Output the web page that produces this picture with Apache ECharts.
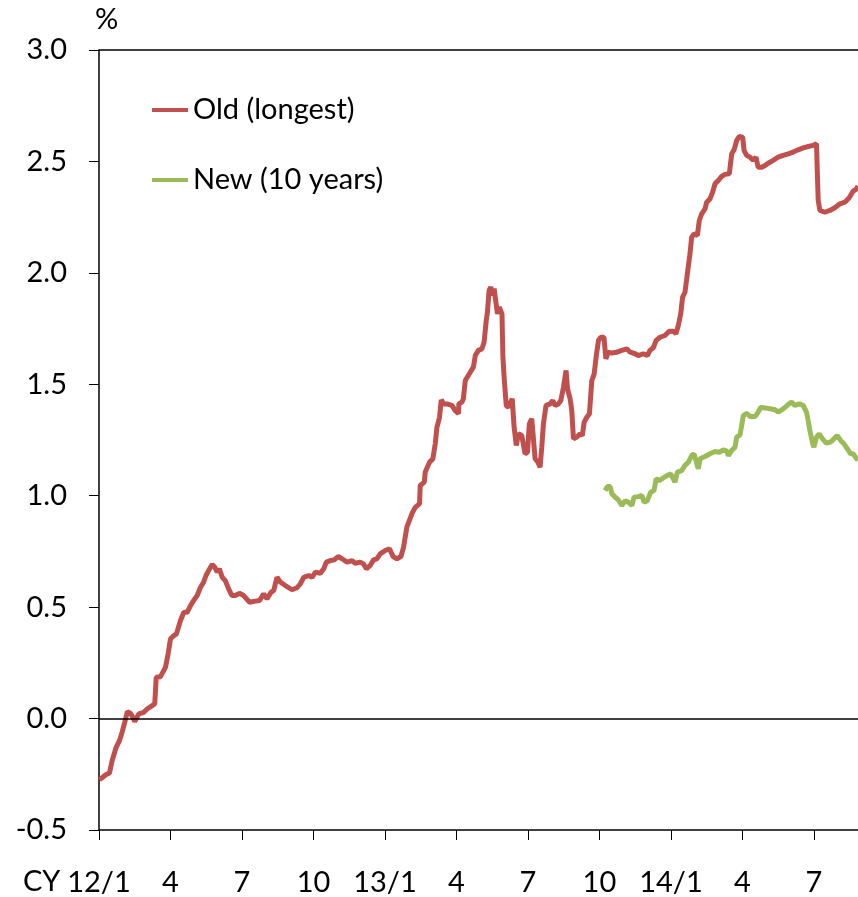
<!DOCTYPE html>
<html>
  <head>
    <meta charset="utf-8">
    <title>Old vs New</title>
    <script src="https://cdn.jsdelivr.net/npm/echarts@6/dist/echarts.min.js"></script>
    <style>
      html, body { margin: 0; padding: 0; background: #fff; }
      #main { width: 858px; height: 897px; }
    </style>
  </head>
  <body>
    <div id="main"></div>
    <script type="text/javascript">
      // x = months since CY 2012/1, y = %
      var oldMonths = [0.02,0.27,0.44,0.55,0.72,0.86,0.97,1.08,1.19,1.32,1.42,1.50,1.67,1.88,2.02,2.23,2.34,2.40,2.58,2.79,
        2.90,3.00,3.14,3.25,3.42,3.56,3.70,3.84,3.97,4.12,4.26,4.39,4.49,4.60,4.75,4.86,4.96,5.05,5.17,5.30,
        5.44,5.58,5.72,5.89,6.07,6.14,6.32,6.56,6.74,6.91,7.05,7.22,7.33,7.47,7.61,7.82,8.10,8.31,8.45,8.59,
        8.80,8.94,9.08,9.29,9.43,9.54,9.71,9.87,10.03,10.20,10.41,10.62,10.75,10.96,11.10,11.22,11.38,11.52,11.66,11.80,
        12.01,12.19,12.34,12.50,12.67,12.78,12.92,13.13,13.27,13.45,13.48,13.65,13.69,13.87,14.01,14.11,14.18,14.29,14.36,14.46,
        14.60,14.81,14.95,15.09,15.10,15.23,15.29,15.37,15.58,15.71,15.79,15.92,16.07,16.16,16.25,16.30,16.37,16.44,16.51,16.58,
        16.65,16.72,16.80,16.91,16.95,17.01,17.09,17.18,17.25,17.34,17.42,17.51,17.60,17.74,17.88,17.98,18.06,18.16,18.23,18.30,
        18.42,18.51,18.58,18.65,18.76,18.93,19.04,19.14,19.28,19.38,19.49,19.60,19.66,19.77,19.84,19.91,20.05,20.19,20.28,20.36,
        20.47,20.58,20.68,20.78,20.86,20.96,21.06,21.10,21.19,21.27,21.37,21.52,21.73,21.94,22.15,22.29,22.50,22.63,22.84,23.01,
        23.12,23.26,23.38,23.54,23.75,23.93,24.10,24.21,24.31,24.41,24.49,24.59,24.69,24.80,24.87,24.97,25.11,25.19,25.29,25.43,
        25.50,25.64,25.75,25.85,25.99,26.13,26.27,26.45,26.55,26.65,26.76,26.87,27.01,27.07,27.18,27.32,27.45,27.57,27.66,27.81,
        27.95,28.08,28.29,28.50,28.71,28.92,29.13,29.34,29.55,29.76,29.97,30.11,30.14,30.18,30.25,30.46,30.67,30.88,31.09,31.30,
        31.48,31.65,31.79,31.85];
      var oldValues = [-0.275,-0.253,-0.244,-0.189,-0.129,-0.099,-0.061,-0.017,0.031,0.024,0.006,-0.013,0.021,0.028,0.043,0.058,0.066,0.185,0.188,0.230,
        0.290,0.358,0.372,0.380,0.440,0.477,0.477,0.507,0.530,0.552,0.589,0.612,0.642,0.664,0.691,0.679,0.657,0.672,0.634,0.619,
        0.582,0.552,0.552,0.562,0.552,0.552,0.522,0.527,0.530,0.560,0.537,0.567,0.574,0.634,0.612,0.597,0.578,0.587,0.605,0.634,
        0.642,0.634,0.657,0.652,0.672,0.702,0.709,0.712,0.727,0.717,0.702,0.709,0.697,0.702,0.694,0.672,0.687,0.712,0.717,0.739,
        0.754,0.762,0.727,0.717,0.727,0.769,0.859,0.919,0.948,0.964,1.046,1.061,1.106,1.150,1.166,1.233,1.307,1.352,1.430,1.412,
        1.412,1.405,1.382,1.368,1.412,1.420,1.435,1.517,1.554,1.577,1.629,1.652,1.659,1.689,1.786,1.824,1.921,1.936,1.899,1.929,
        1.921,1.816,1.846,1.816,1.622,1.517,1.405,1.397,1.390,1.435,1.307,1.225,1.278,1.270,1.188,1.195,1.323,1.345,1.352,1.166,
        1.150,1.128,1.218,1.323,1.405,1.412,1.427,1.405,1.412,1.427,1.487,1.562,1.480,1.435,1.382,1.255,1.263,1.278,1.270,1.330,
        1.352,1.368,1.517,1.547,1.622,1.697,1.711,1.719,1.711,1.614,1.644,1.640,1.644,1.652,1.659,1.644,1.637,1.629,1.637,1.629,
        1.652,1.664,1.697,1.711,1.719,1.738,1.738,1.727,1.764,1.816,1.891,1.913,1.996,2.086,2.160,2.175,2.168,2.235,2.265,2.287,
        2.317,2.332,2.362,2.400,2.415,2.433,2.442,2.445,2.534,2.552,2.594,2.612,2.609,2.549,2.527,2.519,2.505,2.519,2.474,2.474,
        2.482,2.492,2.505,2.519,2.527,2.534,2.542,2.552,2.561,2.567,2.572,2.579,2.460,2.325,2.280,2.272,2.280,2.292,2.310,2.317,
        2.337,2.367,2.377,2.390];

      var newMonths = [21.24,21.33,21.45,21.52,21.66,21.79,21.94,22.08,22.21,22.36,22.45,22.63,22.78,22.87,23.01,23.15,23.29,23.38,23.51,23.68,
        23.85,23.99,24.17,24.27,24.45,24.59,24.73,24.87,24.97,25.05,25.15,25.22,25.43,25.64,25.85,26.03,26.20,26.34,26.41,26.55,
        26.69,26.76,26.90,26.97,27.04,27.18,27.32,27.53,27.66,27.77,27.95,28.16,28.37,28.50,28.71,28.92,29.06,29.20,29.38,29.55,
        29.69,29.76,29.83,29.95,30.00,30.11,30.22,30.36,30.52,30.70,30.84,30.98,31.12,31.26,31.40,31.54,31.65,31.79,31.85];
      var newValues = [1.023,1.041,1.041,1.009,0.993,0.982,0.956,0.978,0.971,0.956,0.993,0.996,1.001,0.971,0.978,1.016,1.023,1.076,1.068,1.080,
        1.091,1.098,1.061,1.106,1.113,1.136,1.150,1.180,1.188,1.158,1.121,1.166,1.176,1.188,1.198,1.195,1.206,1.200,1.180,1.203,
        1.218,1.263,1.273,1.278,1.360,1.370,1.355,1.355,1.375,1.397,1.394,1.390,1.386,1.375,1.390,1.409,1.420,1.405,1.412,1.405,
        1.375,1.337,1.293,1.233,1.218,1.263,1.278,1.255,1.236,1.241,1.255,1.270,1.248,1.233,1.211,1.188,1.188,1.166,1.160];

      var xTickLabels = ['12/1', '4', '7', '10', '13/1', '4', '7', '10', '14/1', '4', '7'];
      var seriesNames = ['Old (longest)', 'New (10 years)'];

      function pairs(xs, ys) {
        return xs.map(function (x, i) { return [x, ys[i]]; });
      }

      var font = 'Lato, "Open Sans", sans-serif';
      var fs = 29;
      var myChart = echarts.init(document.getElementById('main'));

      myChart.setOption({
        animation: false,
        grid: { left: 99, right: -1, top: 50, bottom: 67 },
        legend: {
          orient: 'vertical',
          left: 147,
          top: 90,
          itemGap: 40,
          itemWidth: 36,
          itemHeight: 4,
          icon: 'rect',
          textStyle: { fontFamily: font, fontSize: fs, color: '#000', lineHeight: 30 },
          data: seriesNames
        },
        graphic: [
          { type: 'text', left: 95, top: 5, style: { text: '%', font: fs + 'px ' + font, fill: '#000' } },
          { type: 'text', left: 23, top: 867, style: { text: 'CY', font: fs + 'px ' + font, fill: '#000' } }
        ],
        xAxis: {
          type: 'value',
          min: 0,
          max: 31.85,
          interval: 3,
          axisLine: { onZero: false, lineStyle: { color: '#000', width: 1.5 } },
          axisTick: { show: true, length: 10, lineStyle: { color: '#000', width: 1 } },
          splitLine: { show: false },
          axisLabel: {
            margin: 38,
            fontFamily: font,
            fontSize: fs,
            color: '#000',
            showMaxLabel: false,
            formatter: function (v) {
              var i = Math.round(v / 3);
              if (Math.abs(v - i * 3) > 0.01) return '';
              return xTickLabels[i] || '';
            }
          }
        },
        yAxis: {
          type: 'value',
          min: -0.5,
          max: 3,
          interval: 0.5,
          axisLine: { show: true, lineStyle: { color: '#000', width: 1.5 } },
          axisTick: { show: true, length: 10, lineStyle: { color: '#000', width: 1 } },
          splitLine: { show: false },
          axisLabel: {
            margin: 32,
            fontFamily: font,
            fontSize: fs,
            color: '#000',
            formatter: function (v) { return v.toFixed(1); }
          }
        },
        series: [
          {
            name: seriesNames[0],
            type: 'line',
            showSymbol: false,
            symbol: 'none',
            color: '#C0504D',
            lineStyle: { width: 5, color: '#C0504D' },
            data: pairs(oldMonths, oldValues),
            markLine: {
              silent: true,
              symbol: 'none',
              label: { show: false },
              lineStyle: { color: '#000', width: 1.5, type: 'solid' },
              data: [{ yAxis: 0 }, { yAxis: 3 }]
            },
            z: 3
          },
          {
            name: seriesNames[1],
            type: 'line',
            showSymbol: false,
            symbol: 'none',
            color: '#9BBB59',
            lineStyle: { width: 5, color: '#9BBB59' },
            data: pairs(newMonths, newValues),
            z: 3
          }
        ]
      });
    </script>
  </body>
</html>
